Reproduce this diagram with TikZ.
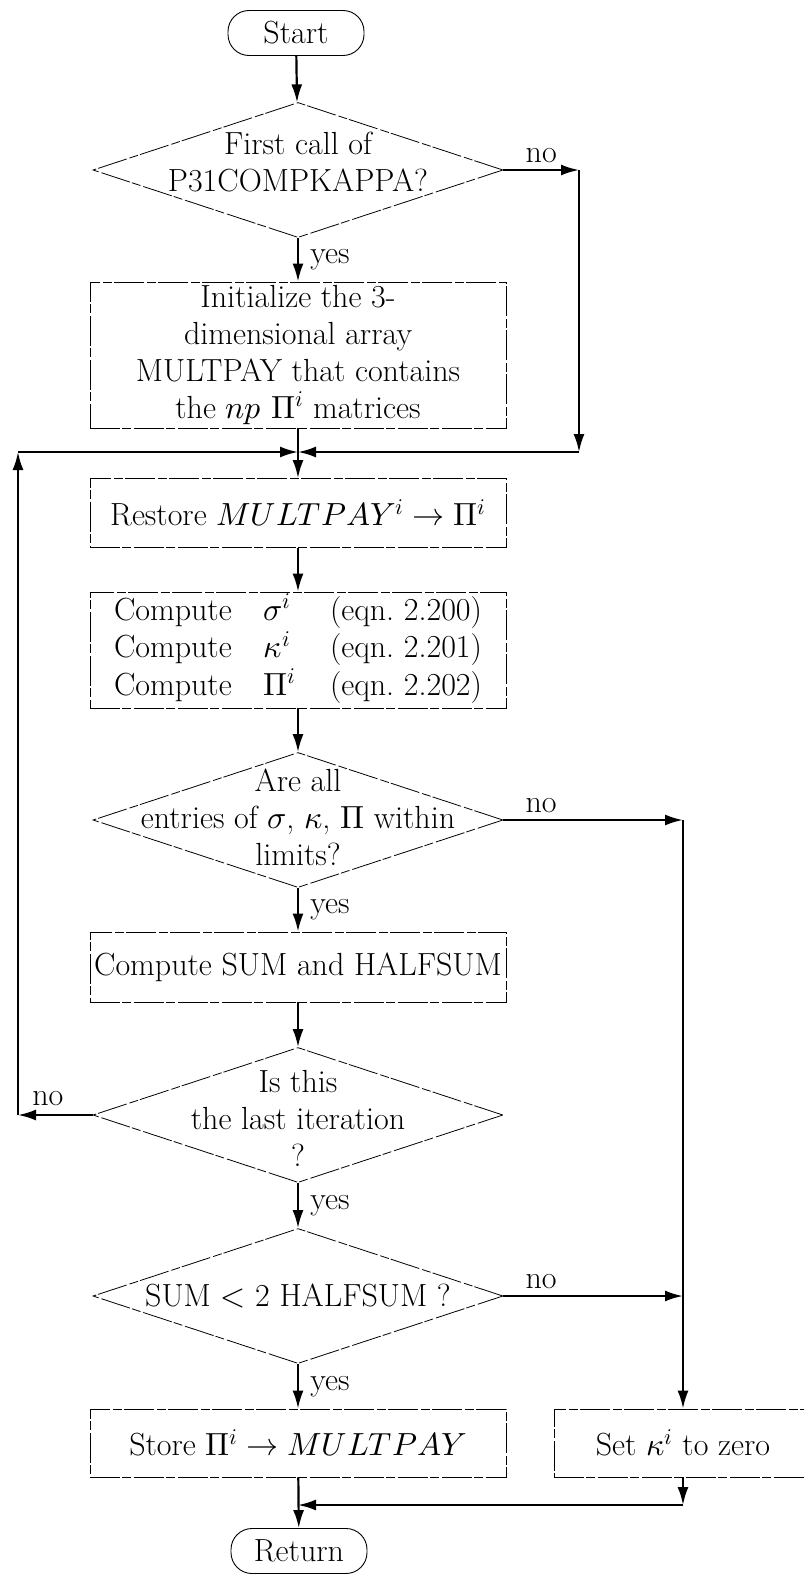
\documentclass[tikz,border=0pt]{standalone}
\usepackage{amsmath}
\usepackage{unicode-math}
\setmathfont{Latin Modern Math}
\usetikzlibrary{arrows.meta,shapes.geometric,positioning}
\newcommand{\flowfont}{\fontsize{32}{37}\selectfont}

\begin{document}
\begin{tikzpicture}[x=1pt, y=-1pt,
    every node/.style={font=\flowfont},
    term style/.style={rectangle, rounded corners=21pt, draw, line width=0.9pt, minimum width=136pt, minimum height=45pt, inner sep=0pt},
    box style/.style={rectangle, draw, line width=0.8pt, dash pattern=on 30pt off 2pt on 9pt off 3pt, minimum width=416pt, align=center, inner sep=0pt},
    decision style/.style={diamond, draw, line width=0.8pt, dash pattern=on 30pt off 2pt on 9pt off 3pt, minimum width=410pt, minimum height=135pt, inner sep=0pt},
    flow/.style={line width=2.2pt, -{Latex[length=18pt,width=11pt]}}
]
\useasboundingbox (0,0) rectangle (804,1574);
\clip (0,0) rectangle (804,1574);

\node[term style] (start) at (296,33) {Start};
\node[decision style, label={[align=center, yshift=8pt]center:{First call of\\P31COMPKAPPA?}}] (d1) at (298,170) {};
\node[box style, minimum height=146pt] (init) at (298,355) {Initialize the 3-\\dimensional array\\MULTPAY that contains\\the $np$ $\Pi^i$ matrices};
\node[box style, minimum height=69pt] (restore) at (298,513) {Restore $MULTPAY^i \rightarrow \Pi^i$};
\node[box style, minimum height=116pt] (compute) at (298,650) {\begin{tabular}{@{}l@{\hspace{32pt}}l@{\hspace{34pt}}l@{}}
Compute & $\sigma^i$ & (eqn.\ 2.200)\\
Compute & $\kappa^i$ & (eqn.\ 2.201)\\
Compute & $\Pi^i$ & (eqn.\ 2.202)
\end{tabular}};
\node[decision style, label={[align=center, yshift=3pt]center:{Are all\\entries of $\sigma$, $\kappa$, $\Pi$ within\\limits?}}] (d2) at (298,820) {};
\node[box style, minimum height=70pt] (sum) at (298,967) {Compute SUM and HALFSUM};
\node[decision style, label={[align=center, yshift=-3pt]center:{Is this\\the last iteration\\?}}] (d3) at (298,1115) {};
\node[decision style, label={[align=center]center:{SUM $<$ 2 HALFSUM ?}}] (d4) at (298,1296) {};
\node[box style, minimum height=68pt] (store) at (298,1443) {Store $\Pi^i \rightarrow MULTPAY$};
\node[box style, minimum width=258pt, minimum height=68pt] (setk) at (683,1443) {Set $\kappa^i$ to zero};
\node[term style] (return) at (299,1551) {Return};

\coordinate (join) at (298,452);
\coordinate (rtop) at (579,170);
\coordinate (rbot) at (579,452);
\coordinate (ltop) at (18,452);
\coordinate (lbot) at (18,1115);
\coordinate (k1) at (683,820);
\coordinate (k2) at (683,1296);
\coordinate (jn2) at (683,1505);
\coordinate (jn3) at (298,1505);

\draw[flow] (start) -- (d1);
\draw[flow] (d1) -- node[right=8pt] (yes1) {yes} (init);
\draw[flow] (d1.east) -- node[above=3pt] (no1) {no} (rtop);
\draw[flow] (rtop) -- (rbot);
\draw[flow] (rbot) -- (join);
\draw[flow] (init) -- (restore);
\draw[flow] (restore) -- (compute);
\draw[flow] (compute) -- (d2);
\draw[flow] (d2) -- node[right=8pt] (yes2) {yes} (sum);
\draw[flow] (d2.east) -- node[above=3pt, pos=0.21] (no2) {no} (k1);
\draw[flow] (k1) -- (setk);
\draw[flow] (sum) -- (d3);
\draw[flow] (d3.west) -- node[above=5pt, pos=0.6] (no4) {no} (lbot);
\draw[flow] (lbot) -- (ltop);
\draw[flow] (ltop) -- (join);
\draw[flow] (d3) -- node[right=8pt] (yes3) {yes} (d4);
\draw[flow] (d4.east) -- node[above=3pt, pos=0.21] (no3) {no} (k2);
\draw[flow] (d4) -- node[right=8pt] (yes4) {yes} (store);
\draw[flow] (setk) -- (jn2);
\draw[flow] (jn2) -- (jn3);
\draw[flow] (store) -- (return);
\end{tikzpicture}
\end{document}
